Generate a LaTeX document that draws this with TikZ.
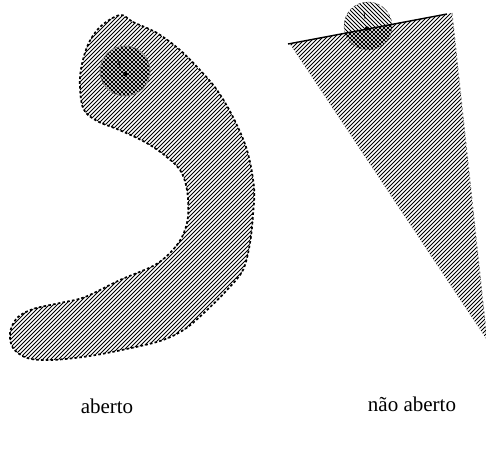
\documentclass[tikz,border=0pt]{standalone}
\usepackage{fontspec}
\setmainfont{Liberation Serif}
\begin{document}
\begin{tikzpicture}[x=1pt,y=-1pt,
  hatch/.style={line width=0.75pt},
  border/.style={dash pattern=on 2.6pt off 2.2pt, line width=1.7pt},
  lbl/.style={font=\fontsize{21}{24}\selectfont, anchor=base}]
\useasboundingbox (0,0) rectangle (486,449);
\def\openshape{plot[smooth cycle, tension=0.55] coordinates {
 (120,15) (133,22) (157,33) (180,50) (200,70) (217,90) (233,117) (247,150)
 (254,187) (253,215) (250,243) (243,270) (227,290) (207,310) (185,329) (160,341)
 (117,351) (83,357) (50,360) (27,358) (13,348) (10,333) (17,318) (33,309)
 (60,303) (85,297) (120,280) (153,266) (170,253) (182,237) (188,217) (187,190)
 (180,170) (163,154) (143,141) (117,129) (97,121) (83,108) (80,77) (87,47) (100,27)}}
% left: open set
\begin{scope}
  \clip \openshape;
  \foreach \c in {90,94,...,630} \draw[hatch] (\c,0) -- (0,\c);
\end{scope}
\begin{scope}
  \clip (125,71) circle (25pt);
  \foreach \c in {-30,-26,...,140} \draw[hatch] (\c,0) -- (\c+200,200);
\end{scope}
\draw[border] \openshape;
\node[circle, minimum size=50pt, inner sep=0pt, draw=gray, line width=0.8pt] (b1) at (125,71) {};
\fill (125,74) circle (2.2pt);
\draw[line width=0.7pt] (117.5,61) -- (119,62.5) -- (120,68);
% right: not open set
\coordinate (t1) at (290,44);
\coordinate (t2) at (452,13);
\coordinate (t3) at (487,340);
\begin{scope}
  \clip (t1) -- (t2) -- (t3) -- cycle;
  \foreach \c in {300,304,...,840} \draw[hatch] (\c,0) -- (0,\c);
\end{scope}
\begin{scope}
  \clip (368,26) circle (24pt);
  \foreach \c in {280,284,...,400} \draw[hatch] (\c,0) -- (\c+100,100);
\end{scope}
\draw[gray, line width=1pt, dash pattern=on 2pt off 3pt] (t2) -- (t3);
\draw[gray!60, dash pattern=on 1.5pt off 4pt, line width=0.6pt] (t1) -- (t3);
\node[circle, minimum size=48pt, inner sep=0pt, draw=gray!70!black, densely dashed, line width=0.5pt] (b2) at (368,26) {};
\coordinate (l1) at (288,44);
\coordinate (l2) at (447,14);
\draw[line width=1.4pt] (l1) -- (l2);
\fill (367,28.5) circle (2.2pt);
\draw[line width=0.7pt] (364,12) -- (365,19);
\node[lbl] (a) at (107,413) {aberto};
\node[lbl] (n) at (412,411) {não aberto};
\end{tikzpicture}
\end{document}
